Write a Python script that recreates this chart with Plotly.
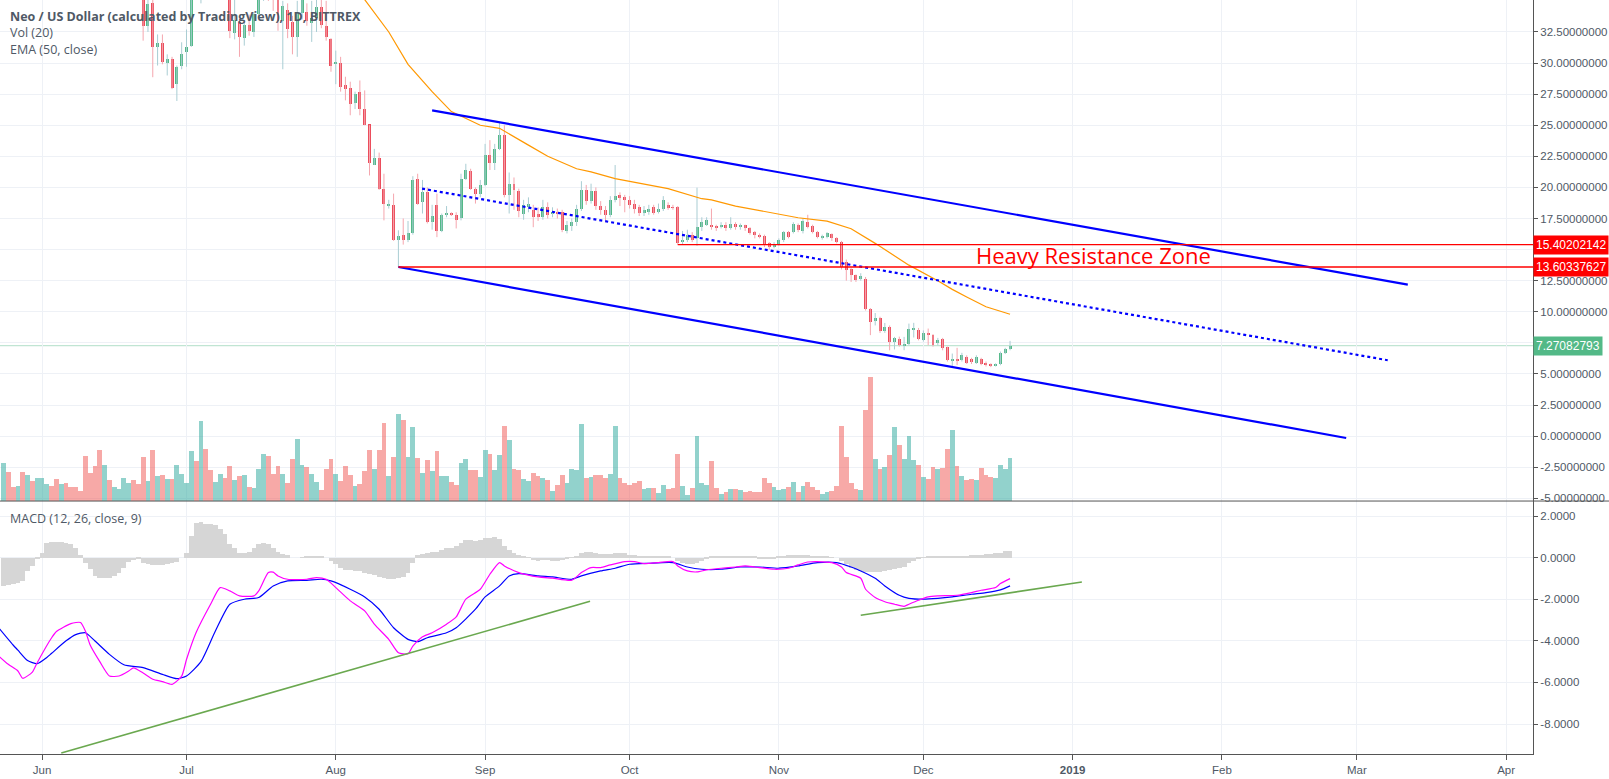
import plotly.graph_objects as go
import pandas as pd

# ---------------- data ----------------
start_date = "2018-05-24"   # first daily bar

opens = [52, 54, 52.5, 51, 52, 49.5, 51.5, 50.5, 52, 53.5, 54, 52.5, 52, 53, 51, 50, 49, 48, 42, 40.5,
         38, 37.5, 40, 39, 39.5, 40.5, 41, 41.5, 40, 37.5, 33.0, 34.8, 31.27, 31.6, 30.0, 30.35, 28.3, 29.75, 30.9, 31.4,
         37.0, 35.6, 36.8, 36.0, 35.6, 36.4, 37.2, 35.6, 32.4, 33.3, 32.0, 33.1, 32.5, 33.95, 35.5, 36.5, 35.4, 35.2, 33.4, 34.3,
         33.3, 32.1, 34.0, 34.1, 33.2, 33.6, 34.5, 33.0, 31.9, 30.0, 30.0, 28.2, 28.0, 26.8, 27.7, 26.3, 25.1, 21.8, 22.4, 19.9,
         18.55, 18.6, 15.75, 16.15, 15.75, 16.3, 20.7, 18.8, 19.6, 17.2, 18.6, 16.5, 17.8, 17.85, 17.75, 17.5, 20.7, 21.3, 19.9, 19.5,
         20.2, 22.6, 22.0, 23.1, 24.2, 19.4, 20.3, 19.7, 17.9, 18.4, 18.15, 17.9, 17.6, 18.4, 17.9, 18.05, 18.0, 16.5, 16.9, 17.2,
         18.3, 19.8, 18.9, 19.75, 18.5, 18.15, 17.75, 18.95, 19.35, 19.2, 19.0, 18.7, 18.4, 17.95, 18.0, 18.4, 18.0, 18.3, 18.6, 18.4,
         18.4, 15.6, 15.8, 16.15, 15.9, 16.8, 17.0, 17.0, 16.85, 16.8, 17.0, 16.7, 17.05, 16.8, 16.95, 16.7, 16.4, 16.15, 16.1, 15.5,
         15.2, 15.45, 15.75, 16.4, 16.41, 16.95, 16.5, 17.2, 16.9, 16.45, 15.95, 16.0, 16.25, 15.9, 15.6, 14.0, 13.4, 12.95, 12.6, 12.67,
         10.26, 9.27, 9.46, 8.46, 8.79, 7.58, 7.85, 7.3, 7.39, 8.55, 8.57, 7.72, 8.3, 8.12, 7.45, 7.77, 7.18, 6.06, 6.24, 6.16,
         6.38, 6.2, 5.89, 6.2, 5.89, 5.79, 5.65, 5.79, 6.7, 6.99]
highs = [55, 55, 53, 53, 52.5, 52, 52, 53, 54, 55, 55, 53, 54, 53.5, 51.5, 50.5, 49.5, 48.5, 42.5, 41,
         39, 40.5, 40.5, 40, 41, 41.5, 42, 42, 40.5, 37.8, 35.5, 35.3, 32.3, 32.3, 30.7, 30.5, 29.8, 31.67, 32.7, 36.5,
         38.0, 37.5, 37.5, 36.6, 37.0, 38.0, 37.5, 36.0, 35.1, 33.6, 33.3, 33.9, 34.1, 36.0, 37.0, 37.0, 36.0, 35.6, 35.0, 34.8,
         33.8, 35.0, 36.0, 34.8, 35.0, 35.2, 35.3, 35.0, 32.0, 31.0, 30.5, 28.9, 28.5, 27.7, 28.6, 27.8, 25.0, 23.1, 22.8, 21.1,
         19.0, 19.5, 16.55, 17.5, 17.3, 20.9, 21.1, 20.6, 20.0, 18.6, 19.5, 17.9, 18.5, 18.0, 18.0, 21.1, 21.9, 21.5, 20.0, 20.6,
         23.5, 23.8, 23.5, 25.2, 25.0, 21.2, 20.8, 19.9, 19.0, 19.2, 18.6, 18.4, 19.0, 18.8, 18.4, 18.3, 18.2, 17.3, 17.5, 18.6,
         20.5, 20.2, 20.3, 20.0, 18.9, 18.5, 19.3, 21.8, 19.6, 19.4, 19.3, 19.0, 18.6, 18.5, 18.6, 18.6, 18.7, 19.3, 18.8, 18.6,
         18.5, 16.5, 16.6, 16.4, 19.98, 17.6, 17.6, 18.3, 17.0, 17.2, 17.2, 17.6, 17.2, 17.1, 17.0, 16.8, 16.5, 16.3, 16.2, 15.6,
         15.6, 15.9, 16.5, 16.5, 17.2, 17.1, 17.5, 17.8, 17.0, 16.5, 16.2, 16.4, 16.3, 16.0, 15.7, 14.2, 13.5, 13.0, 13.1, 12.8,
         10.3, 9.9, 9.6, 9.1, 8.9, 7.98, 8.0, 7.98, 9.05, 9.11, 8.7, 8.5, 8.65, 8.2, 7.9, 7.9, 7.2, 6.64, 7.1, 6.7,
         6.5, 6.3, 6.5, 6.3, 6.0, 5.85, 5.85, 6.8, 7.1, 7.66]
lows = [51, 52, 50, 50.5, 49, 49, 50, 50, 51.5, 53, 52, 51, 51.5, 50.5, 49.5, 48.5, 47.5, 41.5, 40, 37.5,
        36.8, 37, 38.5, 38.5, 39, 40, 40.5, 39.5, 37, 31.8, 32.5, 28.86, 29.8, 29.9, 29.0, 27.9, 26.95, 29.5, 29.7, 31.3,
        35.4, 34.8, 35.4, 35.2, 35.3, 36.0, 35.2, 32.0, 31.9, 30.5, 31.4, 32.2, 32.1, 33.6, 35.0, 35.0, 34.2, 32.6, 29.5, 32.0,
        30.7, 30.5, 33.5, 33.0, 31.7, 32.5, 32.8, 31.8, 29.3, 28.3, 27.7, 27.0, 25.8, 26.3, 25.8, 25.0, 20.96, 21.8, 19.8, 17.35,
        18.3, 15.7, 13.6, 15.4, 15.6, 16.2, 18.6, 17.9, 17.1, 16.6, 16.0, 16.4, 17.6, 17.7, 16.7, 17.35, 20.6, 19.8, 18.7, 19.2,
        20.1, 21.4, 21.4, 23.0, 19.2, 17.9, 18.2, 17.6, 17.4, 18.0, 16.8, 17.3, 17.4, 17.5, 17.6, 17.5, 16.4, 16.3, 16.5, 16.9,
        18.1, 18.6, 18.7, 18.2, 17.8, 17.2, 17.6, 18.8, 18.5, 18.0, 18.3, 17.9, 17.7, 17.7, 17.8, 17.8, 17.9, 18.1, 18.2, 18.2,
        15.4, 15.4, 15.6, 15.6, 15.3, 16.5, 16.9, 16.6, 16.5, 16.7, 16.5, 16.6, 16.6, 16.6, 16.5, 16.2, 15.9, 15.9, 15.2, 15.0,
        15.1, 15.3, 15.6, 15.9, 16.3, 16.4, 16.3, 16.7, 16.3, 15.9, 15.8, 15.9, 15.7, 15.5, 13.4, 12.5, 12.4, 12.4, 12.5, 10.1,
        8.12, 8.9, 8.3, 8.3, 6.9, 6.97, 7.2, 6.91, 7.31, 7.93, 7.7, 7.6, 7.31, 7.2, 7.3, 6.9, 6.0, 5.57, 5.71, 6.0,
        5.8, 5.8, 5.8, 5.7, 5.6, 5.55, 5.6, 5.7, 6.6, 6.9]
closes = [54, 52.5, 51, 52, 49.5, 51.5, 50.5, 52, 53.5, 54, 52.5, 52, 53, 51, 50, 49, 48, 42, 40.5, 38,
          37.5, 40, 39, 39.5, 40.5, 41, 41.5, 40, 37.5, 33.0, 34.75, 31.27, 31.6, 30.12, 30.35, 28.0, 29.65, 30.74, 31.27, 35.6,
          36.0, 36.8, 36.0, 35.6, 36.4, 37.2, 35.6, 32.6, 33.5, 32.07, 33.1, 32.6, 33.95, 35.5, 36.5, 35.4, 35.1, 33.4, 34.6, 32.7,
          32.1, 34.0, 35.1, 33.4, 33.6, 34.5, 33.1, 32.1, 29.8, 30.1, 28.1, 27.9, 26.7, 27.5, 26.3, 25.0, 22.0, 22.4, 19.9, 18.7,
          18.7, 15.75, 16.1, 15.75, 16.3, 20.6, 18.7, 19.6, 17.2, 17.7, 16.5, 17.8, 17.9, 17.8, 17.4, 20.7, 21.4, 19.9, 19.5, 20.2,
          22.6, 21.95, 23.1, 24.2, 19.4, 20.3, 19.8, 18.1, 18.6, 18.7, 17.6, 17.6, 18.4, 17.8, 18.05, 17.9, 16.6, 16.95, 17.2, 18.3,
          19.8, 18.9, 19.75, 18.5, 18.15, 17.75, 18.95, 19.3, 19.2, 18.95, 18.6, 18.3, 17.95, 18.2, 18.3, 17.95, 18.3, 19.0, 18.35, 18.35,
          15.5, 15.8, 16.15, 15.8, 16.8, 17.2, 17.4, 16.8, 16.75, 17.0, 16.7, 17.05, 16.85, 17.0, 16.7, 16.35, 16.15, 16.05, 15.4, 15.2,
          15.45, 15.8, 16.4, 16.0, 17.03, 16.55, 17.3, 16.8, 16.4, 16.0, 16.05, 16.3, 15.9, 15.6, 13.6, 13.35, 12.95, 12.55, 12.9, 10.26,
          9.19, 9.46, 8.46, 8.79, 7.58, 7.9, 7.31, 7.39, 8.65, 8.65, 7.85, 8.3, 8.12, 7.31, 7.72, 7.05, 6.11, 6.24, 6.11, 6.51,
          5.89, 5.95, 6.38, 5.79, 5.71, 5.65, 5.79, 6.7, 6.99, 7.27082793]
volumes = [37.7, 28.7, 14, 14.7, 28.7, 25.7, 19.7, 23, 23, 16.7, 14.7, 21.7, 16.7, 17.7, 14, 14, 9.7, 44.7, 27.7, 34.7,
           50.7, 35.7, 21, 13.7, 11.7, 23, 17.7, 20.7, 16.7, 43.7, 19.7, 50.7, 24.7, 25.7, 21.7, 21.7, 35.7, 26.7, 17.7, 49.7,
           39.7, 79.7, 51.7, 30.7, 18.7, 26.7, 22.7, 34.7, 20.7, 24.7, 25.7, 13.7, 12.7, 31.7, 46.7, 44.7, 26.7, 34.7, 26.7, 17.7,
           41.7, 61.7, 35.7, 33.7, 26.7, 18.7, 10.7, 31.7, 41.7, 26.7, 19.7, 34.7, 25.7, 14.7, 16.7, 29.7, 50.7, 31.7, 50.7, 77.7,
           24.7, 43.7, 86.7, 80.7, 43.7, 73.7, 42.7, 27.7, 40.7, 29.7, 49.7, 24.7, 24.7, 18.7, 15.7, 37.7, 41.7, 30.7, 30.7, 23.7,
           50.7, 46.7, 30.7, 45.7, 74.7, 60.7, 32, 31, 21.7, 19.7, 27.7, 24.7, 22.7, 20.7, 9.7, 15.7, 25.7, 17.7, 31.7, 30.7,
           77, 22.7, 23.7, 25.7, 25.7, 22.7, 26.7, 74.7, 22.7, 17.7, 15.7, 17.7, 19.7, 11.7, 12.7, 12.7, 7.7, 15.7, 11.7, 12.7,
           46.7, 14.7, 5.7, 12.7, 64.7, 17.7, 15.7, 39.7, 12.7, 6.7, 8.7, 11.7, 11.7, 10.7, 8.7, 9.7, 8.7, 8.7, 22.7, 17.7,
           13.7, 10.7, 11.7, 13.7, 18.7, 8.7, 14.7, 18.7, 13.7, 10.7, 6.7, 8.7, 9.7, 14.7, 74.7, 43.7, 17.7, 11.7, 10.7, 90.7,
           123.7, 41.7, 31.7, 33.7, 45.7, 73.7, 55.7, 41.7, 64.7, 40.7, 35.7, 23.7, 21.7, 33.7, 31.7, 32.7, 51.7, 70.7, 34.7, 24.7,
           20.7, 21.7, 20.7, 32.7, 25.7, 23.7, 22.7, 35.7, 31.7, 42.7]

ema_days = [70, 75, 80, 84, 89, 93, 99, 103, 109, 113, 119, 122, 127, 138, 145, 147, 152, 159, 165, 171,
            176, 181, 188, 194, 197, 200, 204, 209]
ema_vals = [36.4, 35.1, 32.5, 29.9, 27.7, 26.1, 25.0, 24.75, 23.4, 22.5, 21.5, 21.25, 20.7, 19.9, 19.09, 19.0,
            18.5, 18.0, 17.56, 17.29, 16.68, 15.5, 13.75, 12.5, 11.8, 11.19, 10.4, 9.8]

macd_days = [-1, 1, 3, 4, 6, 7, 10, 11, 14, 16, 17, 18, 20, 22, 24, 26, 27, 29, 31, 33, 35, 37, 38, 40, 43, 45, 47, 49,
             52, 53, 55, 56, 57, 59, 63, 65, 67, 69, 72, 75, 77, 80, 82, 84, 85, 87, 89, 92, 94, 96, 99, 101, 103, 104,
             107, 111, 114, 118, 120, 122, 124, 126, 129, 131, 133, 136, 139, 140, 142, 144, 146, 149, 152, 154, 156,
             160, 163, 165, 167, 169, 172, 174, 175, 178, 179, 181, 183, 185, 187, 188, 190, 192, 194, 198, 201, 203,
             206, 207, 209]
macd_vals = [-4.73, -5.13, -5.45, -5.8, -5.5, -5.05, -3.85, -3.55, -3.17, -3.12, -3.53, -4.2, -5.0, -5.69, -5.69,
             -5.45, -5.3, -5.55, -5.85, -5.96, -6.09, -5.7, -4.9, -3.6, -2.24, -1.44, -1.6, -1.84, -1.84, -1.6, -0.72,
             -0.7, -0.88, -1.04, -1.04, -0.96, -1.04, -1.44, -2.08, -2.56, -3.2, -3.93, -4.57, -4.62, -4.25, -3.81,
             -3.61, -3.2, -2.85, -2.0, -1.52, -0.8, -0.24, -0.4, -0.72, -0.93, -0.99, -1.09, -0.72, -0.48, -0.48,
             -0.35, -0.19, -0.19, -0.29, -0.24, -0.19, -0.4, -0.64, -0.69, -0.59, -0.51, -0.45, -0.4, -0.45, -0.56,
             -0.51, -0.35, -0.21, -0.19, -0.24, -0.45, -0.72, -0.99, -1.52, -1.92, -2.12, -2.24, -2.34, -2.24, -2.05,
             -1.89, -1.84, -1.81, -1.68, -1.57, -1.44, -1.25, -1.01]
signal_days = [-1, 2, 3, 5, 7, 9, 10, 13, 15, 17, 19, 22, 25, 29, 33, 36, 38, 41, 44, 47, 50, 53, 56, 59, 63, 66,
               68, 72, 75, 78, 81, 84, 86, 88, 92, 94, 98, 100, 103, 105, 107, 111, 114, 118, 120, 124, 127, 130,
               134, 139, 142, 145, 149, 153, 157, 161, 165, 169, 173, 176, 178, 181, 183, 186, 188, 191, 194, 197,
               201, 204, 207, 209]
signal_vals = [-3.37, -4.2, -4.45, -4.95, -5.1, -4.8, -4.6, -4.0, -3.7, -3.61, -4.01, -4.65, -5.15, -5.29, -5.61,
               -5.82, -5.69, -5.0, -3.53, -2.24, -2.0, -1.92, -1.36, -1.12, -1.09, -1.04, -1.12, -1.52, -1.89, -2.48,
               -3.37, -3.93, -4.04, -3.85, -3.61, -3.37, -2.48, -1.89, -1.36, -0.88, -0.77, -0.88, -0.93, -1.04,
               -0.88, -0.64, -0.51, -0.32, -0.27, -0.24, -0.45, -0.56, -0.56, -0.45, -0.45, -0.51, -0.4, -0.24,
               -0.24, -0.45, -0.64, -0.99, -1.36, -1.81, -1.96, -2.0, -1.96, -1.89, -1.76, -1.68, -1.55, -1.36]
hist_vals = [-1.36, -1.3, -1.28, -1.2, -1.12, -0.64, -0.4, -0.08,
             0.24, 0.72, 0.77, 0.77, 0.75, 0.72, 0.67, 0.45, 0.13,
             -0.24, -0.56, -0.88, -0.99, -0.98, -0.96, -0.9, -0.72, -0.48, -0.21, -0.11, -0.08, -0.24, -0.32, -0.38,
             -0.35, -0.35, -0.3, -0.24, -0.19, 0.0,
             0.24, 1.04, 1.68, 1.71, 1.63, 1.6, 1.55, 1.36, 1.12, 0.67, 0.45, 0.24, 0.21, 0.29, 0.45, 0.67, 0.72,
             0.67, 0.48, 0.29, 0.19, 0.13, 0.0,
             0.0, 0.02, 0.03, 0.05, 0.05, 0.03, 0.0,
             -0.16, -0.32, -0.5, -0.58, -0.62, -0.64, -0.66, -0.72, -0.8, -0.85, -0.91, -0.96, -1.02, -1.04, -0.99,
             -0.93, -0.75, -0.26,
             0.13, 0.19, 0.24, 0.27, 0.29, 0.35, 0.45, 0.48, 0.56, 0.72, 0.83, 0.83, 0.8, 0.85, 0.93, 0.96, 1.0, 0.9,
             0.56, 0.35, 0.24, 0.13, 0.05, 0.02,
             -0.11, -0.16, -0.13, -0.11, -0.16, -0.16, -0.13, -0.08, -0.02,
             0.1, 0.2, 0.27, 0.27, 0.24,
             0.16, 0.16, 0.16, 0.22, 0.22, 0.22, 0.13, 0.13, 0.05,
             0.03, 0.03, 0.03, 0.03, 0.03, 0.03, 0.0,
             -0.16, -0.24, -0.29, -0.29, -0.24, -0.16, -0.08,
             0.03, 0.03, 0.03, 0.03, 0.05, 0.05, 0.05, 0.05, 0.05, 0.05,
             -0.08, -0.08, -0.08, -0.08, 0.05, 0.05, 0.13, 0.13, 0.13, 0.13, 0.13, 0.05, 0.05, 0.05, 0.05, 0.02, 0.0,
             -0.16, -0.32, -0.48, -0.6, -0.64, -0.69, -0.69, -0.69, -0.69, -0.64, -0.61, -0.56, -0.5, -0.45, -0.24,
             -0.16, -0.08,
             0.02, 0.03, 0.05, 0.06, 0.06, 0.06, 0.06, 0.06, 0.1, 0.1, 0.13, 0.13, 0.13, 0.16, 0.16, 0.2, 0.24, 0.3, 0.32]

# drawn lines (date, value)
upper_channel = (["2018-08-21", "2019-03-11 14:00"], [26.2, 12.18])
lower_channel = (["2018-08-14", "2019-02-26 19:00"], [13.6, -0.15])
mid_dotted = (["2018-08-18 22:00", "2019-03-07 10:00"], [19.9, 6.1])
resist_hi = ("2018-10-11", 15.40202142)
resist_lo = ("2018-08-14", 13.60337627)
last_price = 7.27082793
macd_trend1 = (["2018-06-05", "2018-09-22 19:00"], [-9.39, -2.10])
macd_trend2 = (["2018-11-18", "2019-01-02 22:00"], [-2.77, -1.17])

price_ticks = [-5, -2.5, 0, 2.5, 5, 7.5, 10, 12.5, 15, 17.5, 20, 22.5, 25, 27.5, 30, 32.5]
macd_ticks = [-8, -6, -4, -2, 0, 2]
month_ticks = ["2018-06-01", "2018-07-01", "2018-08-01", "2018-09-01", "2018-10-01", "2018-11-01",
               "2018-12-01", "2019-01-01", "2019-02-01", "2019-03-01", "2019-04-01"]
month_labels = ["Jun", "Jul", "Aug", "Sep", "Oct", "Nov", "Dec", "<b>2019</b>", "Feb", "Mar", "Apr"]

n = len(closes)
assert len(opens) == n and len(highs) == n and len(lows) == n and len(volumes) == n and len(hist_vals) == n
assert len(macd_days) == len(macd_vals) and len(signal_days) == len(signal_vals) and len(ema_days) == len(ema_vals)

# ---------------- build ----------------
t0 = pd.Timestamp(start_date)
DAY = pd.Timedelta(days=1)
dates = [t0 + i * DAY for i in range(n)]
x_lo = t0 - pd.Timedelta(hours=17.3)
x_hi = x_lo + pd.Timedelta(days=318.3)

UP, DN = "#53B987", "#EB4D5C"
UPW, DNW = "#A9CDD3", "#F5A6AE"
GRID = "#EEF1F6"
AX = "#4F5966"
FONT = "Liberation Sans"

fig = go.Figure()

up = [c >= o for o, c in zip(opens, closes)]

# volume (overlay axis y2)
fig.add_trace(go.Bar(x=dates, y=volumes, yaxis="y2", width=86400000,
                     marker=dict(color=["rgba(38,166,154,0.5)" if u else "rgba(239,83,80,0.5)" for u in up],
                                 line_width=0), hoverinfo="skip"))

# wicks
for want, col in ((True, UPW), (False, DNW)):
    xs, ys = [], []
    for d, h, l, u in zip(dates, highs, lows, up):
        if u == want:
            xs += [d, d, None]
            ys += [l, h, None]
    fig.add_trace(go.Scatter(x=xs, y=ys, mode="lines", line=dict(color=col, width=1), hoverinfo="skip"))

# bodies
for want, col in ((True, UP), (False, DN)):
    bx, bb, bh = [], [], []
    for d, o, c, u in zip(dates, opens, closes, up):
        if u == want:
            bx.append(d)
            bb.append(min(o, c))
            bh.append(max(abs(c - o), 0.07))
    fig.add_trace(go.Bar(x=bx, y=bh, base=bb, width=0.62 * 86400000,
                         marker=dict(color=col, line_width=0), hoverinfo="skip"))

# EMA
fig.add_trace(go.Scatter(x=[t0 + d * DAY for d in ema_days], y=ema_vals, mode="lines",
                         line=dict(color="#FF9800", width=1.2), hoverinfo="skip"))

# channel lines
for (xs, ys), dash in ((upper_channel, "solid"), (lower_channel, "solid"), (mid_dotted, "dot")):
    fig.add_trace(go.Scatter(x=xs, y=ys, mode="lines", line=dict(color="#0000FF", width=2.2, dash=dash),
                             hoverinfo="skip"))

# resistance lines
for d, v in (resist_hi, resist_lo):
    fig.add_trace(go.Scatter(x=[d, x_hi], y=[v, v], mode="lines", line=dict(color="#FF0000", width=1.4),
                             hoverinfo="skip"))

# MACD pane
fig.add_trace(go.Bar(x=dates, y=hist_vals, yaxis="y3", width=86400000,
                     marker=dict(color="#D6D6D6", line_width=0), hoverinfo="skip"))
fig.add_trace(go.Scatter(x=[t0 + d * DAY for d in signal_days], y=signal_vals, yaxis="y3", mode="lines",
                         line=dict(color="#0000FF", width=1.2, shape="spline", smoothing=0.6), hoverinfo="skip"))
fig.add_trace(go.Scatter(x=[t0 + d * DAY for d in macd_days], y=macd_vals, yaxis="y3", mode="lines",
                         line=dict(color="#FF00FF", width=1.2, shape="spline", smoothing=0.6), hoverinfo="skip"))
for xs, ys in (macd_trend1, macd_trend2):
    fig.add_trace(go.Scatter(x=xs, y=ys, yaxis="y3", mode="lines", line=dict(color="#6AA84F", width=1.6),
                             hoverinfo="skip"))

PANE = 0.3355
tickfont = dict(family=FONT, size=11.5, color=AX)
fig.update_layout(
    width=1609, height=779, margin=dict(l=0, r=76, t=0, b=25),
    paper_bgcolor="white", plot_bgcolor="white", showlegend=False,
    barmode="overlay", bargap=0,
    xaxis=dict(type="date", range=[x_lo, x_hi], anchor="y3", tickvals=month_ticks, ticktext=month_labels,
               showgrid=True, gridcolor=GRID, gridwidth=1, ticks="outside", ticklen=5, tickcolor="#555",
               showline=True, linecolor="#555", linewidth=1, tickfont=tickfont, zeroline=False, fixedrange=True),
    yaxis=dict(domain=[PANE, 1], range=[-5.22, 35.07], side="right", anchor="x",
               tickvals=price_ticks, ticktext=["%.8f" % v for v in price_ticks],
               showgrid=True, gridcolor=GRID, ticks="outside", ticklen=4, tickcolor="#555",
               showline=True, linecolor="#555", linewidth=1, tickfont=tickfont, zeroline=False),
    yaxis2=dict(overlaying="y", range=[0, 501], visible=False, showgrid=False, zeroline=False),
    yaxis3=dict(domain=[0, PANE], range=[-9.44, 2.72], side="right", anchor="x",
                tickvals=macd_ticks, ticktext=["%.4f" % v for v in macd_ticks],
                showgrid=True, gridcolor=GRID, ticks="outside", ticklen=4, tickcolor="#555",
                showline=True, linecolor="#555", linewidth=1, tickfont=tickfont, zeroline=False),
)

# pane separator and last-price line
fig.add_shape(type="line", xref="paper", yref="paper", x0=0, x1=1609 / 1533, y0=PANE, y1=PANE,
              line=dict(color="#555", width=1))
fig.add_shape(type="line", xref="paper", yref="y", x0=0, x1=1, y0=last_price, y1=last_price,
              line=dict(color="rgba(83,185,135,0.45)", width=1), layer="below")

# price labels on axis
for v, bg in ((resist_hi[1], "#FF0000"), (resist_lo[1], "#FF0000"), (last_price, "#53B987")):
    fig.add_annotation(x=1, xref="paper", y=v, yref="y", xanchor="left", yanchor="middle",
                       text="%.8f" % v, showarrow=False, bgcolor=bg, borderpad=2,
                       font=dict(family=FONT, size=12, color="white"))

# text
fig.add_annotation(x=pd.Timestamp("2019-01-05 06:00"), y=14.55, xref="x", yref="y", text="Heavy Resistance Zone",
                   showarrow=False, font=dict(family="Open Sans", size=22, color="#FF0000"))
legend_font = dict(family="Open Sans", size=12.5, color="#4F5966")
for txt, ypx, bold in (("Neo / US Dollar (calculated by TradingView), 1D, BITTREX", 16, True),
                       ("Vol (20)", 33, False), ("EMA (50, close)", 50, False),
                       ("MACD (12, 26, close, 9)", 518, False)):
    fig.add_annotation(x=8 / 1533, xref="paper", y=1 - ypx / 754, yref="paper", xanchor="left",
                       yanchor="middle", text=("<b>%s</b>" % txt) if bold else txt, showarrow=False,
                       font=legend_font)

fig.write_html("out.html", config={"displayModeBar": False},
               post_script="document.body.style.margin='0';document.body.style.overflow='hidden';")
